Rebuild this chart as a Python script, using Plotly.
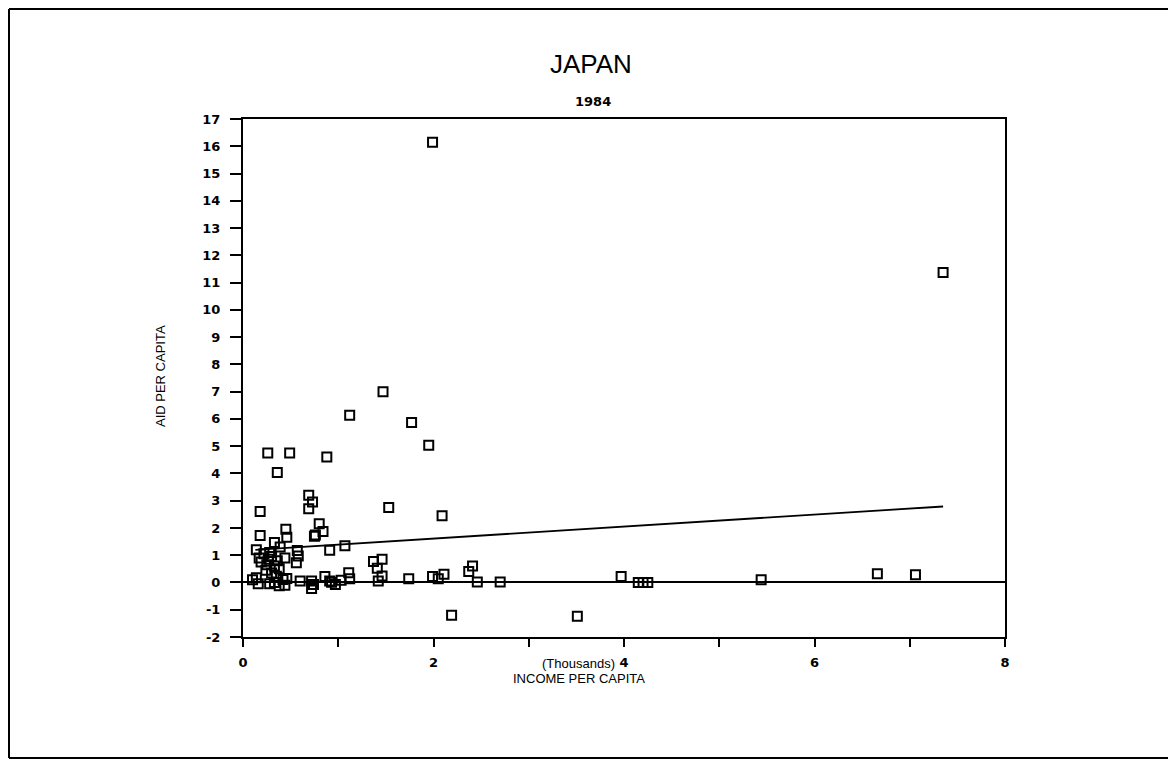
import plotly.graph_objects as go

# Income per capita (thousands) and aid per capita
income = [1.99, 7.35, 1.47, 1.12, 1.77, 1.95, 0.26, 0.49, 0.88, 0.36,
          0.69, 0.73, 0.69, 0.18, 1.53, 2.09, 0.80, 0.84, 0.76, 0.75,
          0.45, 0.46, 0.18, 0.33, 0.39, 1.07, 0.91, 0.14, 0.57, 0.58,
          0.56, 0.44,
          0.22, 0.17, 0.19, 0.25, 0.27, 0.30, 0.33, 0.24, 0.30, 0.36,
          0.38, 0.28,
          0.14, 0.10, 0.16, 0.28, 0.33, 0.42, 0.44, 0.38, 0.60, 0.35,
          0.46,
          1.37, 1.46, 1.41, 1.46, 1.42, 1.11, 1.12, 1.03, 0.86, 0.93,
          0.91, 0.72, 0.74, 0.72, 0.97,
          1.74, 1.99, 2.05, 2.11, 2.37, 2.41, 2.46, 2.70, 2.19, 3.51,
          3.97, 4.15, 4.20, 4.25, 5.44, 6.66, 7.06]
aid = [16.15, 11.37, 7.00, 6.13, 5.87, 5.03, 4.75, 4.75, 4.60, 4.03,
       3.20, 2.95, 2.70, 2.60, 2.75, 2.45, 2.15, 1.87, 1.74, 1.70,
       1.95, 1.66, 1.72, 1.47, 1.30, 1.35, 1.18, 1.20, 1.17, 0.97,
       0.72, 0.90,
       1.05, 0.90, 0.75, 0.65, 0.85, 0.95, 0.60, 0.45, 0.35, 0.80,
       0.50, 1.10,
       0.17, 0.10, -0.05, -0.05, 0.00, 0.11, -0.10, -0.12, 0.05, 0.23,
       0.15,
       0.77, 0.85, 0.52, 0.24, 0.05, 0.36, 0.14, 0.08, 0.22, 0.01,
       0.05, 0.05, -0.07, -0.22, -0.07,
       0.14, 0.22, 0.14, 0.30, 0.40, 0.60, 0.02, 0.02, -1.20, -1.24,
       0.22, 0.00, 0.00, 0.00, 0.10, 0.32, 0.28]

# Fitted trend line
fit_x = [0.13, 7.35]
fit_intercept = 1.17
fit_slope = 0.22
fit_y = [fit_intercept + fit_slope * v for v in fit_x]

x_ticks = [0, 1, 2, 3, 4, 5, 6, 7, 8]
x_ticktext = ["0", "", "2", "", "4", "", "6", "", "8"]
y_ticks = list(range(-2, 18))
y_ticktext = [str(v) for v in y_ticks]

FONT = "Liberation Sans"
TICKFONT = dict(family="DejaVu Sans", size=13, color="black", weight="bold")

fig = go.Figure()
fig.add_trace(go.Scatter(
    x=fit_x, y=fit_y, mode="lines",
    line=dict(color="black", width=1.8), showlegend=False, hoverinfo="skip"))
fig.add_trace(go.Scatter(
    x=income, y=aid, mode="markers",
    marker=dict(symbol="square-open", size=9, color="black",
                line=dict(color="black", width=2)),
    showlegend=False))

# page body has an 8px margin; work in screen coordinates and shift
OFF = 8
W, H = 1160, 753
L = 243 - OFF
T = 119 - OFF
R = W - (1005 - OFF)
B = H - (637 - OFF)
pw, ph = W - L - R, H - T - B

def px(xs):
    return (xs - OFF - L) / pw

def py(ys):
    return (H - B - (ys - OFF)) / ph

border = dict(color="black", width=2)
bx0, bx1 = px(OFF + 1), px(OFF + W)
by0, by1 = py(758), py(OFF + 1)

fig.update_layout(
    width=W, height=H,
    margin=dict(l=L, r=R, t=T, b=B, autoexpand=False),
    paper_bgcolor="white", plot_bgcolor="white",
    font=dict(family=FONT, color="black"),
    xaxis=dict(range=[0, 8], tickvals=x_ticks, ticktext=x_ticktext,
               ticks="outside", ticklen=8, tickwidth=1.5, tickcolor="black",
               ticklabelstandoff=4,
               showline=True, linecolor="black", linewidth=2.2, mirror=True,
               showgrid=False, zeroline=False, tickfont=TICKFONT),
    yaxis=dict(range=[-2, 17], tickvals=y_ticks, ticktext=y_ticktext,
               ticks="outside", ticklen=11, tickwidth=1.5, tickcolor="black",
               ticklabelstandoff=7,
               showline=True, linecolor="black", linewidth=2, mirror=True,
               showgrid=False, zeroline=True, zerolinecolor="black",
               zerolinewidth=1.8, tickfont=TICKFONT),
    annotations=[
        dict(text="JAPAN", x=px(591), y=py(64), xref="paper", yref="paper",
             showarrow=False, font=dict(family=FONT, size=26, color="black"),
             xanchor="center", yanchor="middle"),
        dict(text="1984", x=px(593), y=py(101), xref="paper", yref="paper",
             showarrow=False,
             font=dict(family="DejaVu Sans", size=13, color="black", weight="bold"),
             xanchor="center", yanchor="middle"),
        dict(text="(Thousands)", x=px(578), y=py(663), xref="paper", yref="paper",
             showarrow=False, font=dict(family=FONT, size=13, color="black"),
             xanchor="center", yanchor="middle"),
        dict(text="INCOME PER CAPITA", x=px(579), y=py(678), xref="paper", yref="paper",
             showarrow=False, font=dict(family=FONT, size=13, color="black"),
             xanchor="center", yanchor="middle"),
        dict(text="AID PER CAPITA", x=px(160), y=py(376), xref="paper", yref="paper",
             showarrow=False, textangle=-90,
             font=dict(family=FONT, size=13, color="black"),
             xanchor="center", yanchor="middle"),
    ],
    shapes=[
        dict(type="line", xref="paper", yref="paper",
             x0=bx0, x1=bx0, y0=by0, y1=by1, line=border, layer="below"),
        dict(type="line", xref="paper", yref="paper",
             x0=bx0, x1=bx1, y0=by1, y1=by1, line=border, layer="below"),
        dict(type="line", xref="paper", yref="paper",
             x0=bx0, x1=bx1, y0=by0, y1=by0, line=border, layer="below"),
    ],
)

fig.write_html("out.html")
